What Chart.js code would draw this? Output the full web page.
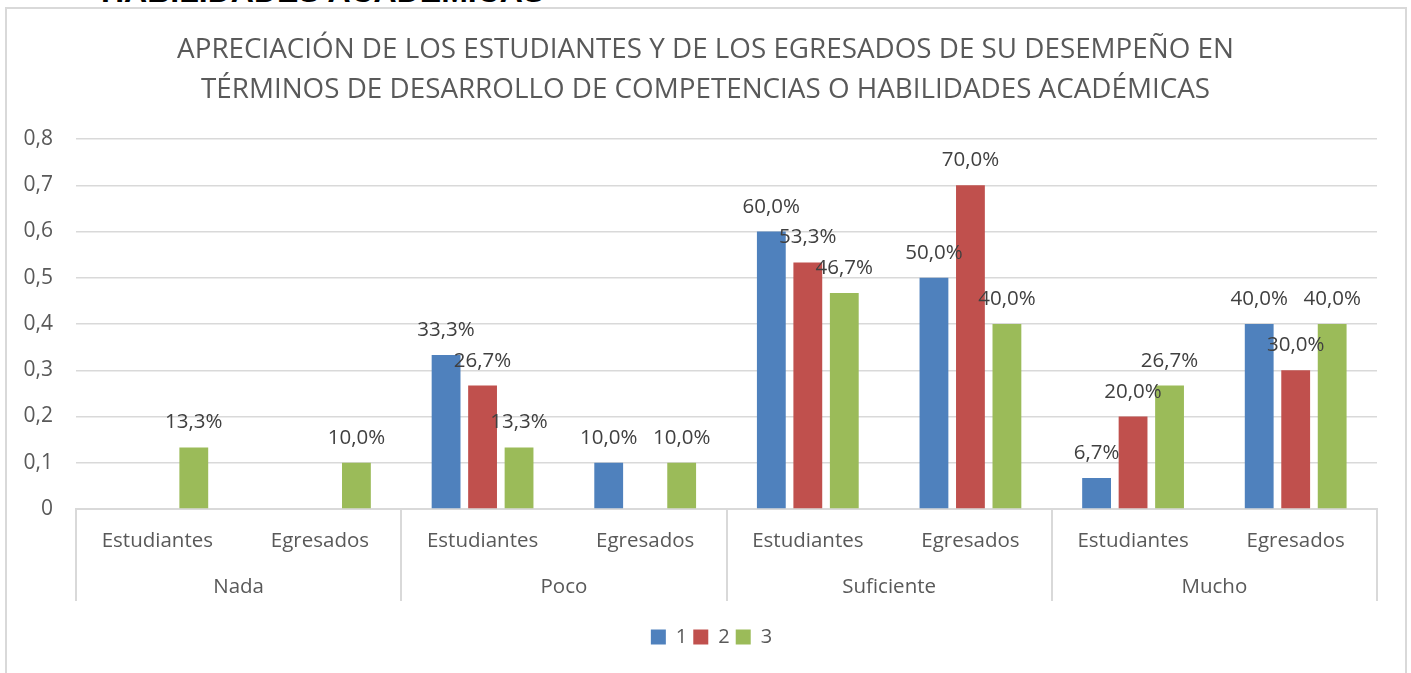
<!DOCTYPE html>
<html>
<head>
<meta charset="utf-8">
<script src="https://cdn.jsdelivr.net/npm/chart.js@4.4.0/dist/chart.umd.min.js"></script>
<style>
  html, body { margin: 0; padding: 0; background: #fff; overflow: hidden; }
  #wrap { position: relative; width: 1411px; height: 673px; }
  #cut { position: absolute; left: 101px; top: -25px; font: bold 32px "Liberation Sans"; line-height: 1; color: #000; white-space: nowrap; }
  #frame { position: absolute; left: 5px; top: 7px; width: 1402px; height: 720px; border: 2px solid #d9d9d9; box-sizing: border-box; }
  canvas { position: absolute; left: 0; top: 0; }
</style>
</head>
<body>
<div id="wrap">
  <div id="cut">HABILIDADES ACADÉMICAS</div>
  <div id="frame"></div>
  <canvas id="chartApreciacion" width="1411" height="673"></canvas>
</div>
<script>
const titleLines = [
  "APRECIACIÓN DE LOS ESTUDIANTES Y DE LOS EGRESADOS DE SU DESEMPEÑO EN",
  "TÉRMINOS DE DESARROLLO DE COMPETENCIAS O HABILIDADES ACADÉMICAS"
];
const groups = ["Nada", "Poco", "Suficiente", "Mucho"];
const subLabels = ["Estudiantes", "Egresados", "Estudiantes", "Egresados",
                   "Estudiantes", "Egresados", "Estudiantes", "Egresados"];
const serie1 = [null, null, 0.333, 0.1, 0.6, 0.5, 0.067, 0.4];
const serie2 = [null, null, 0.267, null, 0.533, 0.7, 0.2, 0.3];
const serie3 = [0.133, 0.1, 0.133, 0.1, 0.467, 0.4, 0.267, 0.4];
const yTicks = [0, 0.1, 0.2, 0.3, 0.4, 0.5, 0.6, 0.7, 0.8];

const FONT = "'Open Sans'";
const axisColor = "#595959";
const gridColor = "#d9d9d9";

function pct(v) {
  return (v * 100).toFixed(1).replace(".", ",") + "%";
}

// data labels + second level of the category axis
const extras = {
  id: "extras",
  afterLayout(chart) {
    // title and legend centred on the page, not on the plot
    chart.legend.left += 23;
    chart.legend.right += 23;
    chart.titleBlock.left += 17;
    chart.titleBlock.right += 17;
  },
  afterDatasetsDraw(chart) {
    const ctx = chart.ctx;
    ctx.save();
    ctx.font = "20.5px " + FONT;
    ctx.fillStyle = "#404040";
    ctx.textAlign = "center";
    ctx.textBaseline = "alphabetic";
    chart.data.datasets.forEach((ds, i) => {
      chart.getDatasetMeta(i).data.forEach((bar, j) => {
        const v = ds.data[j];
        if (v == null) return;
        ctx.fillText(pct(v), bar.x, bar.y - 19);
      });
    });
    ctx.restore();
  },
  afterDraw(chart) {
    const x = chart.scales.x;
    const ctx = chart.ctx;
    const top = chart.chartArea.bottom;
    ctx.save();
    ctx.strokeStyle = gridColor;
    ctx.lineWidth = 2;
    for (let g = 0; g <= groups.length; g++) {
      const px = Math.round(x.getPixelForValue(g * 2 - 0.5));
      ctx.beginPath();
      ctx.moveTo(px, top);
      ctx.lineTo(px, top + 92);
      ctx.stroke();
    }
    ctx.font = "20.5px " + FONT;
    ctx.fillStyle = axisColor;
    ctx.textAlign = "center";
    ctx.textBaseline = "middle";
    groups.forEach((name, g) => {
      const px = x.getPixelForValue(g * 2 + 0.5);
      ctx.fillText(name, px, top + 78);
    });
    ctx.restore();
  }
};

const ctx = document.getElementById("chartApreciacion").getContext("2d");
new Chart(ctx, {
  type: "bar",
  data: {
    labels: subLabels,
    datasets: [
      { label: "1", data: serie1, backgroundColor: "#4f81bd" },
      { label: "2", data: serie2, backgroundColor: "#c0504d" },
      { label: "3", data: serie3, backgroundColor: "#9bbb59" }
    ]
  },
  options: {
    responsive: false,
    animation: false,
    categoryPercentage: 0.673,
    barPercentage: 0.79,
    layout: { padding: { left: 0, right: 34, top: 0, bottom: 16 } },
    plugins: {
      title: {
        display: true,
        text: titleLines,
        color: axisColor,
        font: { family: FONT, size: 27.8, weight: "normal", lineHeight: 40 / 27.8 },
        padding: { top: 30, bottom: 29 }
      },
      legend: {
        position: "bottom",
        labels: {
          color: axisColor,
          font: { family: FONT, size: 20 },
          boxWidth: 15,
          boxHeight: 15,
          padding: 6
        }
      },
      tooltip: { enabled: false }
    },
    scales: {
      x: {
        grid: { display: false },
        border: { display: true, color: gridColor, width: 2 },
        ticks: { color: axisColor, font: { family: FONT, size: 20.5 }, padding: 12, maxRotation: 0, autoSkip: false },
        afterFit(s) { s.height = 112; }
      },
      y: {
        min: 0,
        max: 0.8,
        afterBuildTicks(s) { s.ticks = yTicks.map(v => ({ value: v })); },
        grid: { color: gridColor, lineWidth: 1.5, drawTicks: false },
        border: { display: false },
        ticks: {
          color: axisColor,
          font: { family: FONT, size: 21 },
          padding: 23,
          callback: v => String(Math.round(v * 10) / 10).replace(".", ",")
        },
        afterFit(s) { s.width = 76; }
      }
    }
  },
  plugins: [extras]
});
</script>
</body>
</html>
